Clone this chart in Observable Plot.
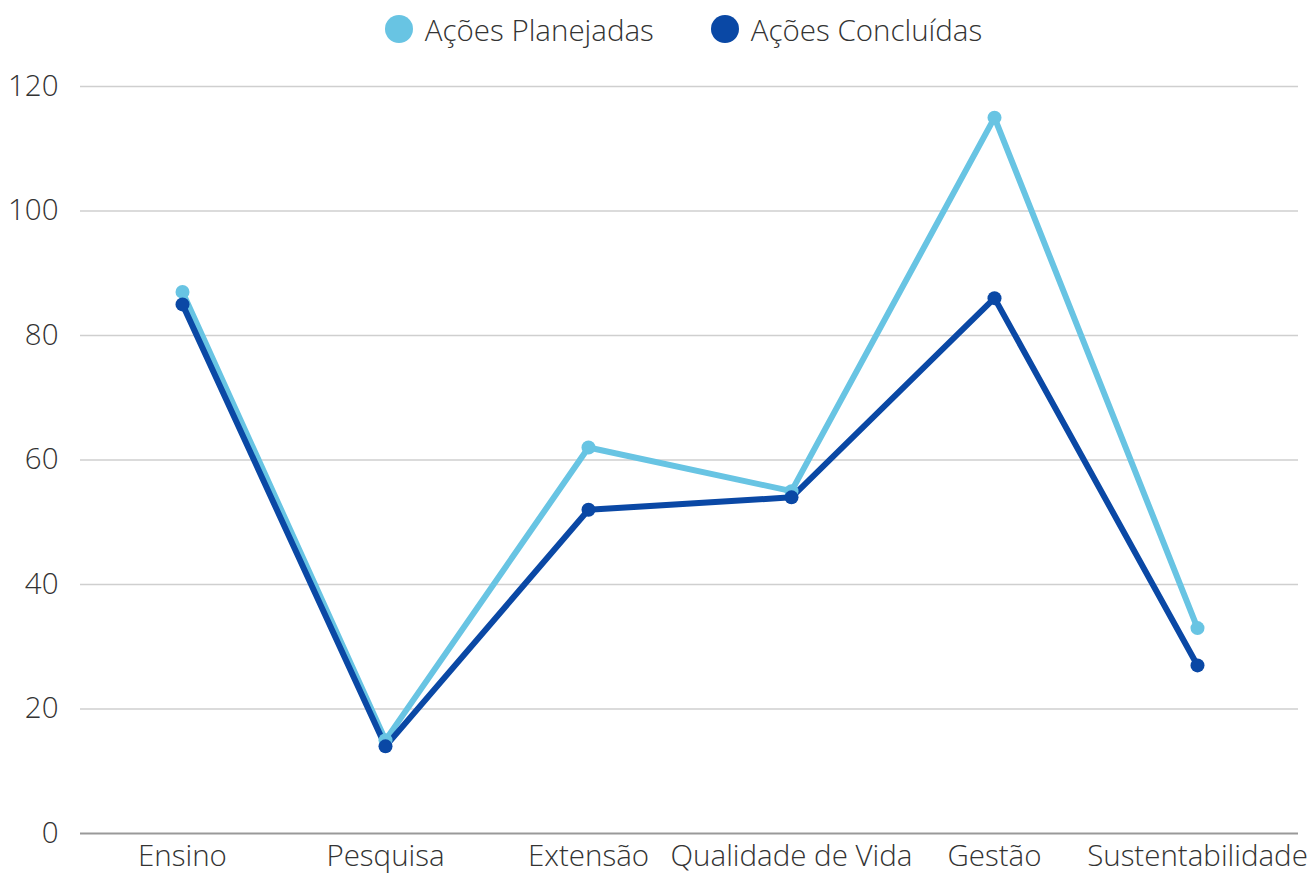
<!DOCTYPE html>
<html>
<head>
<meta charset="utf-8">
<script src="https://cdn.jsdelivr.net/npm/d3@7"></script>
<script src="https://cdn.jsdelivr.net/npm/@observablehq/plot@0.6"></script>
<style>
  body { margin: 0; background: #fff; font-family: "Open Sans", sans-serif; font-weight: 300; color: #333; }
  #legend { height: 58px; display: flex; justify-content: center; align-items: center; gap: 57px; font-size: 29.5px; padding-left: 56px; box-sizing: border-box; }
  .item { display: flex; align-items: center; gap: 12px; }
  .sw { width: 28px; height: 28px; border-radius: 50%; display: inline-block; }
  svg text { font-family: "Open Sans", sans-serif; font-weight: 300; }
</style>
</head>
<body>
<div id="legend"></div>
<div id="chart"></div>
<script>
const categories = ["Ensino", "Pesquisa", "Extensão", "Qualidade de Vida", "Gestão", "Sustentabilidade"];
const planejadas = [87, 15, 62, 55, 115, 33];
const concluidas = [85, 14, 52, 54, 86, 27];
const seriesNames = ["Ações Planejadas", "Ações Concluídas"];
const seriesColors = ["#68c4e3", "#0a48a5"];
const yTicks = [0, 20, 40, 60, 80, 100, 120];

const data = [];
categories.forEach((c, i) => {
  data.push({cat: c, value: planejadas[i], series: seriesNames[0]});
  data.push({cat: c, value: concluidas[i], series: seriesNames[1]});
});

const legend = document.getElementById("legend");
seriesNames.forEach((s, i) => {
  const it = document.createElement("div");
  it.className = "item";
  it.innerHTML = `<span class="sw" style="background:${seriesColors[i]}"></span><span>${s}</span>`;
  legend.appendChild(it);
});

const plot = Plot.plot({
  width: 1311,
  height: 817,
  marginLeft: 80,
  marginRight: 13,
  marginTop: 28,
  marginBottom: 42,
  style: {fontSize: "29.5px", fontFamily: "Open Sans", color: "#333", background: "#fff"},
  x: {type: "point", domain: categories, padding: 0.5, label: null, tickSize: 0, tickPadding: 12},
  y: {domain: [0, 120], ticks: yTicks, label: null, tickSize: 0, tickPadding: 22},
  color: {domain: seriesNames, range: seriesColors},
  marks: [
    Plot.ruleY(yTicks.filter(d => d > 0), {stroke: "#cfcfcf", strokeWidth: 1.3}),
    Plot.ruleY([0], {stroke: "#999", strokeWidth: 2}),
    Plot.line(data, {x: "cat", y: "value", z: "series", stroke: "series", strokeWidth: 6, strokeLinejoin: "round"}),
    Plot.dot(data, {x: "cat", y: "value", fill: "series", r: 7, stroke: "none"})
  ]
});
document.getElementById("chart").appendChild(plot);
</script>
</body>
</html>
